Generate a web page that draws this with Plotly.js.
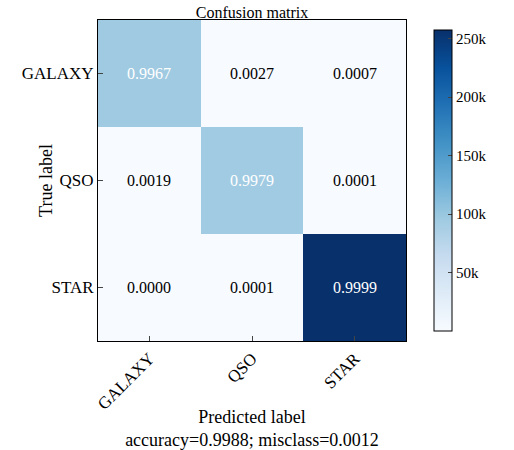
<!DOCTYPE html>
<html>
<head>
<meta charset="utf-8">
<script src="https://cdn.plot.ly/plotly-3.0.1.min.js"></script>
<style>body{margin:0;background:#fff}</style>
</head>
<body>
<div id="myDiv" style="width:514px;height:450px"></div>
<script>
let labels = ['GALAXY', 'QSO', 'STAR']
// raw counts (colour), row = true label, col = predicted label
let galaxyRow = [96000, 260, 67]
let qsoRow = [180, 94500, 10]
let starRow = [5, 26, 257500]
// normalised values shown in cells
let galaxyText = ['0.9967', '0.0027', '0.0007']
let qsoText = ['0.0019', '0.9979', '0.0001']
let starText = ['0.0000', '0.0001', '0.9999']
let cbTicks = [50000, 100000, 150000, 200000, 250000]

let z = [galaxyRow, qsoRow, starRow]
let texts = [galaxyText, qsoText, starText]

let blues = [
  [0, '#f7fbff'], [0.125, '#deebf7'], [0.25, '#c6dbef'], [0.375, '#9ecae1'],
  [0.5, '#6baed6'], [0.625, '#4292c6'], [0.75, '#2171b5'], [0.875, '#08519c'], [1, '#08306b']
]

let annotations = []
for (let i = 0; i < labels.length; i++) {
  for (let j = 0; j < labels.length; j++) {
    annotations.push({
      x: labels[j], y: labels[i], text: texts[i][j], showarrow: false,
      font: {size: 16, color: i == j ? 'white' : 'black'}
    })
  }
}

let trace = {
  z: z, x: labels, y: labels, type: 'heatmap', colorscale: blues,
  zmin: 0, zmax: 257500, xgap: 0, ygap: 0, hoverinfo: 'none',
  colorbar: {
    x: 1.06, xanchor: 'left', y: 0.5, yanchor: 'middle', len: 1, thickness: 18,
    outlinewidth: 1, outlinecolor: 'black', tickvals: cbTicks, ticks: 'inside',
    ticklen: 4, tickfont: {size: 15, color: 'black'}
  }
}

let axisBase = {
  showline: true, mirror: true, linecolor: 'black', linewidth: 1,
  ticks: 'inside', ticklen: 5, showgrid: false, zeroline: false,
  tickfont: {size: 17, color: 'black'}
}

let layout = {
  font: {family: 'Liberation Serif, Times New Roman, serif', color: 'black'},
  title: {text: 'Confusion matrix', font: {size: 16}, x: 0.5, xref: 'paper', y: 0.985, yanchor: 'top'},
  margin: {l: 98, r: 98, t: 20, b: 109},
  paper_bgcolor: 'white', plot_bgcolor: 'white',
  xaxis: Object.assign({}, axisBase, {
    tickangle: -45,
    title: {text: 'Predicted label<br>accuracy=0.9988; misclass=0.0012', font: {size: 18}, standoff: 8}
  }),
  yaxis: Object.assign({}, axisBase, {
    autorange: 'reversed',
    title: {text: 'True label', font: {size: 18}}
  }),
  annotations: annotations
}

Plotly.newPlot('myDiv', [trace], layout, {displayModeBar: false})
</script>
</body>
</html>
